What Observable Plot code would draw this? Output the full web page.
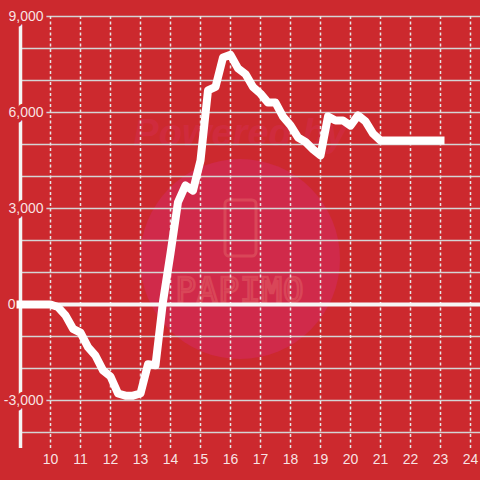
<!DOCTYPE html>
<html>
<head>
<meta charset="utf-8">
<script src="https://cdn.jsdelivr.net/npm/d3@7"></script>
<script src="https://cdn.jsdelivr.net/npm/@observablehq/plot@0.6"></script>
<style>
  html, body { margin: 0; padding: 0; background: #cc292e; }
  #chart { width: 480px; height: 480px; }
</style>
</head>
<body>
<div id="chart"></div>
<script>
// ---- data ----
const hours = [
  9.00, 9.25, 9.50, 9.75, 10.00, 10.25, 10.50, 10.75,
  11.00, 11.25, 11.50, 11.75, 12.00, 12.25, 12.50, 12.75,
  13.00, 13.25, 13.50, 13.75, 14.00, 14.25, 14.50, 14.75,
  15.00, 15.25, 15.50, 15.75, 16.00, 16.25, 16.50, 16.75,
  17.00, 17.25, 17.50, 17.75, 18.00, 18.25, 18.50, 18.75,
  19.00, 19.25, 19.50, 19.75, 20.00, 20.25, 20.50, 20.75,
  21.00, 21.25, 21.50, 21.75, 22.00, 22.25, 22.50, 22.75, 23.00
];
const values = [
  0, 0, 0, 0, 0, -80, -340, -760,
  -880, -1330, -1600, -2060, -2250, -2780, -2850, -2850,
  -2780, -1870, -1900, 90, 1600, 3200, 3720, 3560,
  4500, 6690, 6800, 7720, 7800, 7380, 7200, 6800,
  6590, 6310, 6310, 5870, 5600, 5220, 5080, 4850,
  4660, 5875, 5750, 5750, 5590, 5910, 5720, 5340,
  5125, 5125, 5125, 5125, 5125, 5125, 5125, 5125, 5125
];
const xTicks = [10, 11, 12, 13, 14, 15, 16, 17, 18, 19, 20, 21, 22, 23, 24];
const xTickLabels = ["10", "11", "12", "13", "14", "15", "16", "17", "18", "19", "20", "21", "22", "23", "24"];
const yGrid = [-4000, -3000, -2000, -1000, 1000, 2000, 3000, 4000, 5000, 6000, 7000, 8000, 9000];
const yTicks = [-3000, 0, 3000, 6000, 9000];
const yTickLabels = ["-3,000", "0", "3,000", "6,000", "9,000"];

const series = hours.map((h, i) => ({ h, v: values[i] }));
const yLabelRows = yTicks.map((v, i) => ({ v, label: yTickLabels[i] }));

const bg = "#cc292e";
const txt = "rgba(255,255,255,0.88)";

const chart = Plot.plot({
  width: 480,
  height: 480,
  marginLeft: 20,
  marginRight: 0,
  marginTop: 16,
  marginBottom: 32,
  style: { background: bg, fontFamily: "'Liberation Sans', Arial, sans-serif", fontSize: "14px" },
  x: { domain: [9, 24 + 1/3], axis: null },
  y: { domain: [-4500, 9000], axis: null },
  marks: [
    // horizontal gridlines
    Plot.ruleY(yGrid, { stroke: "#d4d4d4", strokeWidth: 1.5 }),
    // vertical dotted gridlines
    Plot.ruleX(xTicks, { stroke: "#e6e6e6", strokeWidth: 1.5, strokeDasharray: "3,2.5" }),
    // y axis line
    Plot.ruleX([9], { y1: 9000, y2: -4500, stroke: "#f4f4f4", strokeWidth: 3.5 }),
    // zero line
    Plot.ruleY([0], { stroke: "#f6f6f6", strokeWidth: 4 }),
    // data line
    Plot.line(series, {
      x: "h", y: "v", stroke: "#ffffff", strokeWidth: 8,
      strokeLinejoin: "round", strokeLinecap: "square"
    }),
    // y tick labels with background halo (non-zero)
    Plot.text(yLabelRows.filter(d => d.v !== 0), {
      y: "v", frameAnchor: "left", dx: 23, textAnchor: "end",
      text: "label", fill: txt, fontSize: 14,
      stroke: bg, strokeWidth: 7
    }),
    // zero label sits left of the axis
    Plot.text(yLabelRows.filter(d => d.v === 0), {
      y: "v", frameAnchor: "left", dx: -5, textAnchor: "end",
      text: "label", fill: txt, fontSize: 14
    }),
    // x tick labels
    Plot.text(xTicks, {
      x: d => d, frameAnchor: "bottom", dy: 15,
      text: (d, i) => xTickLabels[i], fill: txt, fontSize: 14
    })
  ]
});

// watermark decoration (behind the data)
const ns = "http://www.w3.org/2000/svg";
const wm = document.createElementNS(ns, "g");
wm.setAttribute("pointer-events", "none");
wm.innerHTML = `
  <text x="240" y="146" text-anchor="middle" font-family="'Liberation Sans', Arial, sans-serif"
    font-weight="bold" font-style="italic" font-size="38" fill="#d02c40" fill-opacity="0.9">Powered by</text>
  <circle cx="240" cy="259" r="100" fill="#d02a4a"/>
  <rect x="225" y="200" width="31" height="56" rx="4" fill="none" stroke="#d94658" stroke-width="3"/>
  <text x="240" y="302" text-anchor="middle" font-family="'DejaVu Sans Mono', monospace"
    font-size="34" letter-spacing="1" fill="none" stroke="#d94658" stroke-width="2.5">PAPIMO</text>
`;
const svg = chart.tagName === "svg" ? chart : chart.querySelector("svg");
const firstMark = svg.querySelector("g[aria-label]");
svg.insertBefore(wm, firstMark);
document.getElementById("chart").appendChild(chart);
</script>
</body>
</html>
